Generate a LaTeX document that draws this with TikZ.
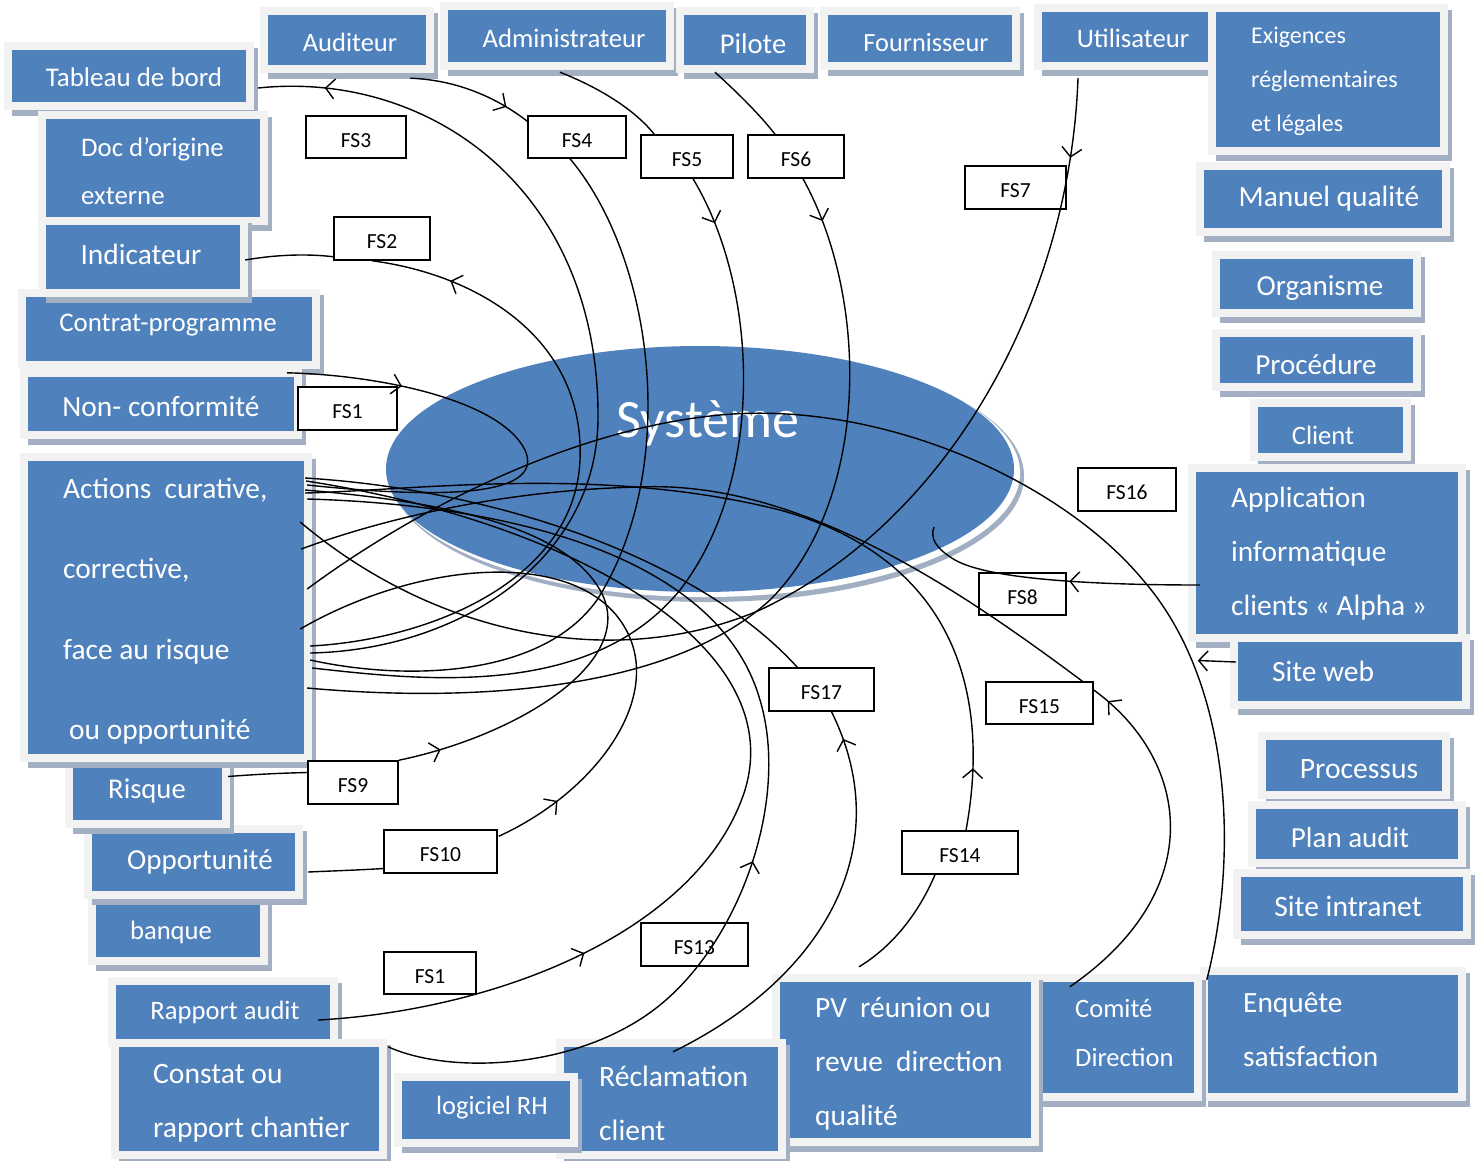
\documentclass[tikz,border=0pt]{standalone}
\usepackage{fontspec}
\setmainfont{Carlito}
\usetikzlibrary{calc,arrows.meta,decorations.markings,shapes.geometric}
\definecolor{boxblue}{HTML}{4F81BD}
\definecolor{framec}{HTML}{F2F2F2}
\definecolor{shadowc}{HTML}{A3AFC2}
\definecolor{rimc}{HTML}{A2AFC3}
\tikzset{
  bluebox/.style={fill=boxblue, inner sep=0pt},
  boxtxt/.style={text=white, inner sep=0pt},
  fslbl/.style={draw=black, line width=1.5pt, fill=white, inner sep=0pt, font=\fontsize{21.5}{22}\selectfont, minimum height=42pt, text height=20pt, text depth=0pt},
  conn/.style={draw=black, line width=1.4pt},
  myb/.tip={Straight Barb[length=9pt,width=20pt]},
  arrfwd/.style={postaction={decorate,decoration={markings,mark=at position #1 with {\arrow{myb}}}}},
  arrbwd/.style={postaction={decorate,decoration={markings,mark=at position #1 with {\arrowreversed{myb}}}}},
}
% name, x1, y1, x2, y2, text options, tx, ty, text
\newcommand\bx[9]{%
  \fill[shadowc] ({#2},{#3-2}) rectangle ({#4+12},{#5+14});
  \fill[framec] ({#2-8},{#3-8}) rectangle ({#4+8},{#5+8});
  \node[bluebox, minimum width={(#4-#2)*1pt}, minimum height={(#5-#3)*1pt}] (#1) at ({(#2+#4)/2},{(#3+#5)/2}) {};
  \node[boxtxt, #6] (#1t) at (#7,#8) {#9};
}
\newcommand\fsz[2]{\fontsize{#1}{#2}\selectfont}
\begin{document}
\begin{tikzpicture}[x=1pt,y=-1pt]
\fill[white] (0,0) rectangle (1478,1160);
\useasboundingbox (0,0) rectangle (1478,1160);

% ---------- boxes ----------
\bx{tab}{12}{50}{246}{102}{font=\fsz{27}{27}}{134}{77}{Tableau de bord}
\bx{aud}{268}{15}{426}{65}{font=\fsz{26.5}{27}}{350}{42}{Auditeur}
\bx{adm}{448}{10}{666}{62}{font=\fsz{26.7}{27}}{564}{38}{Administrateur}
\bx{pil}{684}{15}{806}{65}{font=\fsz{28.6}{29}}{753}{44}{Pilote}
\bx{fou}{828}{15}{1012}{62}{font=\fsz{26.3}{27}}{926}{43}{Fournisseur}
\bx{uti}{1042}{12}{1208}{62}{font=\fsz{26.7}{27}}{1133}{38}{Utilisateur}
\bx{exi}{1216}{12}{1440}{147}{font=\fsz{24}{44}, anchor=west, align=left}{1251}{81}{Exigences\\réglementaires\\et légales}
\bx{man}{1204}{170}{1442}{228}{font=\fsz{29.4}{30}}{1329}{199}{Manuel qualité}
\bx{org}{1220}{259}{1413}{309}{font=\fsz{29}{29}}{1320}{288}{Organisme}
\bx{pro}{1220}{337}{1413}{383}{font=\fsz{29}{29}}{1316}{365}{Procédure}
\bx{cli}{1258}{407}{1403}{453}{font=\fsz{26.6}{27}}{1323}{435}{Client}
\bx{app}{1196}{472}{1458}{634}{font=\fsz{29.4}{54}, anchor=west, align=left}{1231}{554}{Application\\informatique\\clients « Alpha »}
\bx{web}{1238}{642}{1462}{701}{font=\fsz{29.4}{30}}{1323}{671}{Site web}
\bx{prc}{1266}{740}{1442}{791}{font=\fsz{29.6}{30}}{1359}{769}{Processus}
\bx{pla}{1256}{809}{1458}{859}{font=\fsz{29}{29}}{1350}{838}{Plan audit}
\bx{int}{1241}{877}{1463}{931}{font=\fsz{29.6}{30}}{1348}{906}{Site intranet}
\bx{enq}{1208}{975}{1458}{1093}{font=\fsz{29.4}{54}, anchor=west, align=left}{1243}{1030}{Enquête\\satisfaction}
\bx{com}{1040}{982}{1194}{1093}{font=\fsz{26.5}{49}, anchor=west, align=left}{1075}{1033}{Comité\\Direction}
\bx{pv}{780}{982}{1031}{1138}{font=\fsz{29.4}{54}, anchor=west, align=left}{815}{1064}{PV~ réunion ou\\revue~ direction\\qualité}
\bx{rec}{564}{1047}{778}{1151}{font=\fsz{29.6}{54}, anchor=west, align=left}{599}{1103}{Réclamation\\client}
\bx{log}{402}{1081}{570}{1139}{font=\fsz{26.4}{27}}{492}{1108}{logiciel RH}
\bx{rap}{116}{985}{330}{1039}{font=\fsz{26.6}{27}}{225}{1012}{Rapport audit}
\bx{con}{119}{1047}{379}{1151}{font=\fsz{29.6}{54}, anchor=west, align=left}{153}{1103}{Constat ou\\rapport chantier}
\bx{ban}{96}{905}{260}{957}{font=\fsz{26.6}{27}}{171}{932}{banque}
\bx{opp}{92}{833}{295}{891}{font=\fsz{29}{29}}{200}{862}{Opportunité}
\bx{ris}{73}{763}{222}{820}{font=\fsz{28.6}{29}}{147}{791}{Risque}
\bx{act}{28}{461}{304}{754}{font=\fsz{29.4}{80.5}, anchor=west, align=left}{63}{611}{Actions~ curative,\\corrective,\\face au risque\\\hspace*{6pt}ou opportunité}
\bx{ctr}{26}{297}{312}{361}{font=\fsz{26.9}{27}}{168}{325}{Contrat-programme}
\bx{non}{28}{377}{294}{431}{font=\fsz{29.4}{30}}{161}{406}{Non- conformité}
\bx{doc}{46}{119}{260}{217}{font=\fsz{26.8}{48}, anchor=west, align=left}{81}{171}{Doc d’origine\\externe}
\bx{ind}{46}{225}{240}{289}{font=\fsz{29.4}{30}}{141}{254}{Indicateur}

% ---------- central ellipse ----------
\node[ellipse, fill=rimc, inner sep=0pt, minimum width=632pt, minimum height=252pt] (sysrim) at (708,476) {};
\node[ellipse, fill=white, inner sep=0pt, minimum width=630pt, minimum height=248pt] (sysgap) at (705,473) {};
\node[ellipse, fill=boxblue, inner sep=0pt, minimum width=628pt, minimum height=246pt] (sys) at (700,469) {};
\node[text=white, font=\fsz{54}{54}, inner sep=0pt] (syst) at (708,423) {Système};

% ---------- FS labels ----------
\node[fslbl, minimum width=100pt] (fs3) at (356,137) {FS3};
\node[fslbl, minimum width=98pt] (fs4) at (577,137) {FS4};
\node[fslbl, minimum width=92pt, minimum height=43pt] (fs5) at (687,156.5) {FS5};
\node[fslbl, minimum width=96pt, minimum height=43pt] (fs6) at (796,156.5) {FS6};
\node[fslbl, minimum width=101pt, minimum height=43pt] (fs7) at (1015.5,187.5) {FS7};
\node[fslbl, minimum width=96pt, minimum height=43pt] (fs2) at (382,238.5) {FS2};
\node[fslbl, minimum width=99pt, minimum height=43pt] (fs1a) at (347.5,408.5) {FS1};
\node[fslbl, minimum width=98pt, minimum height=43pt] (fs16) at (1127,489.5) {FS16};
\node[fslbl, minimum width=87pt] (fs8) at (1022.5,594) {FS8};
\node[fslbl, minimum width=105pt, minimum height=43pt] (fs17) at (821.5,689.5) {FS17};
\node[fslbl, minimum width=107pt] (fs15) at (1039.5,703) {FS15};
\node[fslbl, minimum width=90pt, minimum height=43pt] (fs9) at (353,782.5) {FS9};
\node[fslbl, minimum width=113pt, minimum height=43pt] (fs10) at (440.5,851.5) {FS10};
\node[fslbl, minimum width=116pt, minimum height=43pt] (fs14) at (960,852.5) {FS14};
\node[fslbl, minimum width=92pt] (fs1b) at (430,973) {FS1};
\node[fslbl, minimum width=107pt, minimum height=43pt] (fs13) at (694.5,944.5) {FS13};

% ---------- connectors ----------
% FS3 : Tableau de bord
\draw[conn, arrbwd=0.07] ($(tab.east)+(12,12)$) .. controls (430,70) and (600,190) .. (598,420) .. controls (596,560) and (460,650) .. ($(act.east)+(6,45.5)$);
% FS4 : Auditeur
\draw[conn, arrfwd=0.8] ($(aud.south east)+(-16,13)$) .. controls (460,80) and (500,100) .. ($(fs4.north west)+(0,6)$);
\draw[conn] ($(fs4.south)+(-7,0)$) .. controls (655,260) and (680,470) .. (597,600) .. controls (540,680) and (400,680) .. ($(act.east)+(6,52.5)$);
% FS5 : Administrateur
\draw[conn] ($(adm.south)+(3,10)$) .. controls (600,88) and (635,110) .. ($(fs5.north west)+(14,0)$);
\draw[conn, arrfwd=0.06] ($(fs5.south)+(6,0)$) .. controls (760,290) and (765,480) .. (680,590) .. controls (590,700) and (420,680) .. ($(act.east)+(8,60.5)$);
% FS6 : Pilote
\draw[conn] ($(pil.south)+(-30,7)$) .. controls (740,95) and (760,115) .. ($(fs6.north)+(-21,0)$);
\draw[conn, arrfwd=0.05] ($(fs6.south)+(7,0)$) .. controls (870,300) and (870,500) .. (770,600) .. controls (660,700) and (440,700) .. ($(act.east)+(3,80.5)$);
% FS7 : Utilisateur
\draw[conn, arrfwd=0.07] ($(uti.south)+(-47,16)$) .. controls (1070,300) and (950,520) .. (760,610) .. controls (620,670) and (440,640) .. ($(act.east)+(-4,-85.5)$);
% FS2 : Indicateur
\draw[conn] ($(ind.east)+(5,3)$) .. controls (280,254) and (310,254) .. ($(fs2.south west)+(0,-4)$);
\draw[conn, arrbwd=0.12] ($(fs2.south)+(-10,0)$) .. controls (480,275) and (585,340) .. (580,460) .. controls (575,580) and (430,640) .. ($(act.east)+(6,38.5)$);
% FS1 : Non-conformite
\draw[conn, arrfwd=0.23] ($(non.north east)+(-7,-4)$) .. controls (380,375) and (500,400) .. (525,450) .. controls (545,495) and (450,500) .. ($(act.east)+(3,-122.5)$);
% FS9 : Risque
\draw[conn] ($(ris.east)+(6,-15)$) .. controls (260,774) and (285,773) .. ($(fs9.west)+(0,-10)$);
\draw[conn, arrfwd=0.07] (fs9.north east) .. controls (520,735) and (640,660) .. (600,590) .. controls (560,520) and (420,500) .. ($(act.east)+(1,-117.5)$);
% FS10 : Opportunite
\draw[conn] ($(opp.east)+(13,10)$) .. controls (330,871) and (360,870) .. ($(fs10.west)+(0,17)$);
\draw[conn, arrfwd=0.11] ($(fs10.north east)+(1,7)$) .. controls (600,790) and (670,690) .. (620,620) .. controls (570,550) and (420,560) .. ($(act.east)+(-4,21.5)$);
% FS1 : Rapport audit
\draw[conn, arrfwd=0.25] ($(rap.east)+(-12,8)$) .. controls (500,1010) and (700,930) .. (745,790) .. controls (790,640) and (560,520) .. ($(act.east)+(2,-126.5)$);
% FS13 : Constat
\draw[conn, arrfwd=0.4] ($(con.north east)+(9,0)$) .. controls (450,1075) and (580,1070) .. (660,1005) .. controls (740,940) and (790,800) .. (760,700) .. controls (720,560) and (520,505) .. ($(act.east)+(3,-108.5)$);
% FS17 : Reclamation
\draw[conn, arrfwd=0.93] ($(rec.north)+(2,5)$) .. controls (820,980) and (900,850) .. ($(fs17.south)+(10,0)$);
\draw[conn] ($(fs17.north west)+(29,0)$) .. controls (700,560) and (500,490) .. ($(act.east)+(1,-129.5)$);
% FS14 : PV
\draw[conn] ($(pv.north)+(-46.5,-15)$) .. controls (895,945) and (920,910) .. ($(fs14.south)+(-25,0)$);
\draw[conn, arrfwd=0.07] ($(fs14.north)+(6,0)$) .. controls (990,700) and (960,560) .. (780,510) .. controls (600,465) and (420,490) .. ($(act.east)+(1,-114.5)$);
% FS15 : Comite
\draw[conn, arrfwd=0.95] ($(com.north west)+(30,5)$) .. controls (1210,890) and (1190,760) .. ($(fs15.east)+(0,-13)$);
\draw[conn] ($(fs15.north east)+(-10,1)$) .. controls (960,590) and (800,480) .. (640,487) .. controls (500,490) and (380,520) .. ($(act.east)+(-3,-58.5)$);
% FS16 : Enquete
\draw[conn] ($(enq.north west)+(-1,5)$) .. controls (1240,850) and (1230,680) .. (1143,580) .. controls (1060,480) and (880,400) .. (720,415) .. controls (560,430) and (400,520) .. ($(act.east)+(3,-18.5)$);
% Site web
\draw[conn, -{myb}] ($(web.west)+(-2,-9.5)$) -- ($(web.west)+(-40,-11)$);
% FS8 : Application
\draw[conn, arrfwd=0.45] ($(app.west)+(4,32)$) .. controls (1100,585) and (990,580) .. (955,560) .. controls (935,548) and (930,538) .. ($(sys.center)+(234,58)$);
\end{tikzpicture}
\end{document}
